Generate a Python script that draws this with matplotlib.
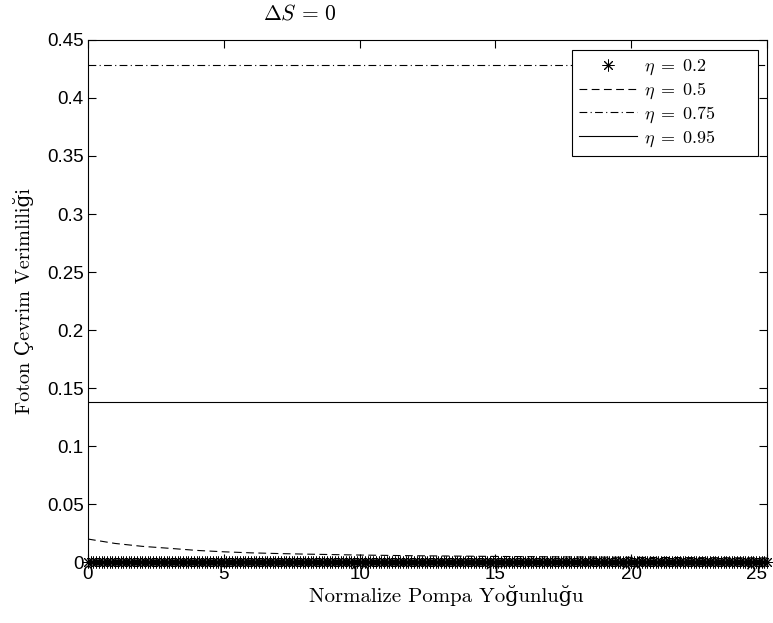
import numpy as np
import matplotlib
matplotlib.use('Agg')
import matplotlib.pyplot as plt

plt.rcParams['mathtext.fontset'] = 'cm'

# eta = 0.2 : sampled pump intensities, efficiency ~ 0
x_02 = np.arange(0, 25.0001, 0.1)
eff_02_level = 0.0004

# eta = 0.5 : decaying curve
x_05 = [0, 1, 2, 3, 4, 5, 6, 7, 8, 10, 12, 15, 20, 25]
eff_05 = [0.0198, 0.0160, 0.0135, 0.0118, 0.0100, 0.0088, 0.0079, 0.0073,
          0.0068, 0.0060, 0.0054, 0.0048, 0.0040, 0.0035]

# eta = 0.75 and 0.95 : flat
x_flat = [0, 25]
eff_075 = [0.4285, 0.4285]
eff_095 = [0.138, 0.138]

pad = '\u00a0' * 7
labels = [r'$\eta\;=\;0.2$' + pad, r'$\eta\;=\;0.5$' + pad,
          r'$\eta\;=\;0.75$' + pad, r'$\eta\;=\;0.95$' + pad]

fig = plt.figure(figsize=(7.73, 6.23), dpi=100)
ax = fig.add_axes([0.1138, 0.0979, 0.8784, 0.8379])

ax.plot(x_02, [eff_02_level] * len(x_02), linestyle='none', marker=(8, 2, 0),
        color='k', markersize=8.5, markeredgewidth=0.7, clip_on=False, label=labels[0])
ax.plot(x_05, eff_05, color='k', lw=0.8, dashes=(7, 4), label=labels[1])
ax.plot(x_flat, eff_075, color='k', lw=0.8, dashes=(7, 3, 1, 3), label=labels[2])
ax.plot(x_flat, eff_095, color='k', lw=0.8, label=labels[3])

ax.set_xlim(0, 25)
ax.set_ylim(0, 0.45)
ax.set_xticks([0, 5, 10, 15, 20, 25])
ax.set_yticks(np.arange(0, 0.451, 0.05))
ax.set_yticklabels(['0', '0.05', '0.1', '0.15', '0.2', '0.25', '0.3', '0.35', '0.4', '0.45'])
ax.tick_params(direction='in', top=True, right=True, length=6, width=0.8,
               labelsize=13.5, pad=3)
for lab in ax.get_xticklabels() + ax.get_yticklabels():
    lab.set_family('Liberation Sans')
ax.get_xticklabels()[-1].set_ha('right')
for s in ax.spines.values():
    s.set_linewidth(0.8)

ax.set_title(r'$\Delta S\,=\,0$', fontsize=15.5, x=0.312, pad=15)
ax.set_xlabel('Normalize Pompa Yoğunluğu', family=['cmr10', 'DejaVu Serif'], fontsize=15)
ax.xaxis.set_label_coords(0.527, -0.045)
ax.set_ylabel('Foton Çevrim Verimliliği', family=['cmr10', 'DejaVu Serif'], fontsize=14.5)
ax.yaxis.set_label_coords(-0.08, 0.5)

leg = ax.legend(loc='upper right', bbox_to_anchor=(0.9867, 0.9808), borderaxespad=0,
                fontsize=13, frameon=True, fancybox=False, edgecolor='k', framealpha=1,
                handlelength=3.2, handletextpad=0.4, borderpad=0.4,
                labelspacing=0.18, numpoints=1)
leg.get_frame().set_linewidth(0.8)

fig.savefig('out.png', dpi=100)
